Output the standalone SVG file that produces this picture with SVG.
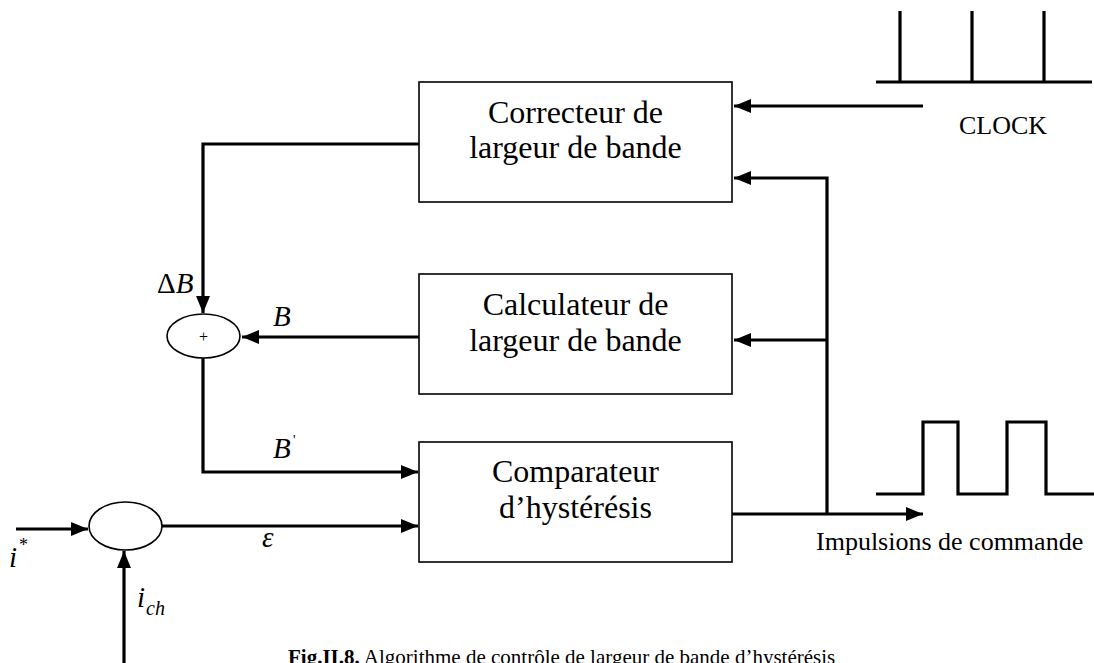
<svg xmlns="http://www.w3.org/2000/svg" width="1094" height="663" viewBox="0 0 1094 663" font-family="'Liberation Serif','Times New Roman',serif">
<style>
.box{fill:#fff;stroke:#000;stroke-width:1.6}
.sum{fill:#fff;stroke:#000;stroke-width:1.6}
.wire{fill:none;stroke:#000;stroke-width:3.2}
.wave{fill:none;stroke:#000;stroke-width:3.2}
.t{font-family:"Liberation Serif","Times New Roman",serif;fill:#000}
.bt{font-size:32px;text-anchor:middle}
.lbl{font-size:26px}
.math{font-size:29px;font-style:italic}
</style>
<defs>
<marker id="ah" markerUnits="userSpaceOnUse" markerWidth="18" markerHeight="16" refX="17" refY="8" orient="auto">
<path d="M0,1 L17,8 L0,15 z" fill="#000"/>
</marker>
</defs>
<rect width="1094" height="663" fill="#fff"/>
<g id="connectors">
<path class="wire" d="M923 106 H734" marker-end="url(#ah)"/>
<path class="wire" d="M732 514 H923" marker-end="url(#ah)"/>
<path class="wire" d="M827 514 V178 H734" marker-end="url(#ah)"/>
<path class="wire" d="M827 340 H734" marker-end="url(#ah)"/>
<path class="wire" d="M419 144 H203 V313" marker-end="url(#ah)"/>
<path class="wire" d="M419 337 H242" marker-end="url(#ah)"/>
<path class="wire" d="M203 358 V472 H418" marker-end="url(#ah)"/>
<path class="wire" d="M162 526 H418" marker-end="url(#ah)"/>
<path class="wire" d="M16 529 H88" marker-end="url(#ah)"/>
<path class="wire" d="M124 663 V551" marker-end="url(#ah)"/>
</g>
<g id="correcteur">
<rect class="box" x="419" y="82" width="313" height="120"/>
<text class="t bt" x="575.5" y="123">Correcteur de</text>
<text class="t bt" x="575.5" y="158">largeur de bande</text>
</g>
<g id="calculateur">
<rect class="box" x="419" y="274" width="313" height="120"/>
<text class="t bt" x="575.5" y="315">Calculateur de</text>
<text class="t bt" x="575.5" y="351">largeur de bande</text>
</g>
<g id="comparateur">
<rect class="box" x="419" y="442" width="313" height="120"/>
<text class="t bt" x="575.5" y="482">Comparateur</text>
<text class="t bt" x="575.5" y="518">d’hystérésis</text>
</g>
<g id="sommateur-bande">
<ellipse class="sum" cx="203.5" cy="336" rx="36.5" ry="22"/>
<text class="t" x="203.5" y="342" font-size="16" text-anchor="middle">+</text>
</g>
<g id="soustracteur">
<ellipse class="sum" cx="125.5" cy="526" rx="36.5" ry="24"/>
</g>
<g id="clock">
<path class="wave" d="M876 82 H1092 M900 82 V11 M972 82 V11 M1044 82 V11"/>
<text class="t lbl" x="1003" y="134" text-anchor="middle">CLOCK</text>
</g>
<g id="impulsions">
<path class="wave" d="M876 494 H923 V422 H958 V494 H1007 V422 H1046 V494 H1094"/>
<text class="t lbl" x="816" y="550">Impulsions de commande</text>
</g>
<g id="labels">
<text class="t" x="157" y="293" font-size="29"><tspan>Δ</tspan><tspan font-style="italic">B</tspan></text>
<text class="t math" x="273" y="326">B</text>
<text class="t math" x="273" y="458">B</text>
<text class="t" x="293" y="445" font-size="14">'</text>
<text class="t math" x="262" y="547">ε</text>
<text class="t math" x="9" y="567">i</text>
<text class="t" x="19" y="551" font-size="18">*</text>
<text class="t math" x="137" y="607">i</text>
<text class="t" x="146" y="615" font-size="20" font-style="italic">ch</text>
</g>
<g id="caption">
<text class="t" x="288" y="664" font-size="21"><tspan font-weight="bold">Fig.II.8.</tspan> Algorithme de contrôle de largeur de bande d’hystérésis</text>
</g>
</svg>
